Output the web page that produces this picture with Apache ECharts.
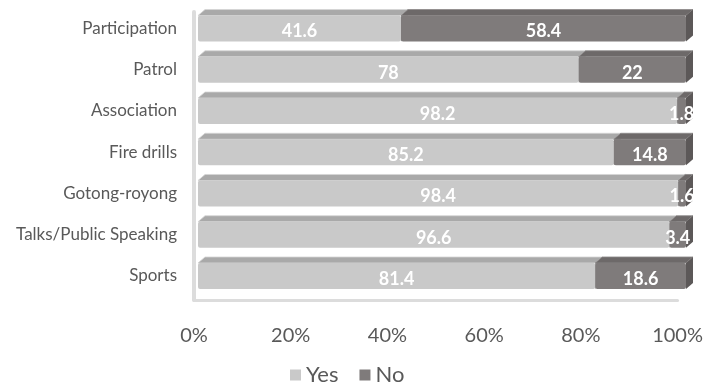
<!DOCTYPE html>
<html>
<head>
<meta charset="utf-8">
<script src="https://cdn.jsdelivr.net/npm/echarts@6/dist/echarts.min.js"></script>
<style>html,body{margin:0;padding:0;background:#fff}#c{width:706px;height:386px}</style>
</head>
<body>
<div id="c"></div>
<script>
const categories = ['Participation', 'Patrol', 'Association', 'Fire drills', 'Gotong-royong', 'Talks/Public Speaking', 'Sports'];
const yesValues = [41.6, 78, 98.2, 85.2, 98.4, 96.6, 81.4];
const noValues = [58.4, 22, 1.8, 14.8, 1.6, 3.4, 18.6];
const axisTicks = [0, 20, 40, 60, 80, 100];

const FONT = 'Lato';
const palette = {
  Yes: { front: '#c9c9c9', top: '#a9a9a9', edge: '#d6d6d6', side: '#9a9a9a' },
  No: { front: '#7f7b7b', top: '#6d6969', edge: '#8c8888', side: '#5c5858' }
};

function makeRender(name) {
  const col = palette[name];
  return function (params, api) {
    const cat = api.value(2);
    const s = api.coord([api.value(0), cat]);
    const e = api.coord([api.value(1), cat]);
    const h = 26, dx = 7, dy = 6;
    const yT = s[1] - h / 2, yB = s[1] + h / 2;
    const x0 = s[0], x1 = e[0];
    const val = api.value(3);
    return {
      type: 'group',
      children: [
        { type: 'polygon', shape: { points: [[x0, yT], [x1, yT], [x1 + dx, yT - dy], [x0 + dx, yT - dy]] },
          style: { fill: col.top, stroke: col.edge, lineWidth: 0.8 } },
        { type: 'polygon', shape: { points: [[x1, yT], [x1 + dx, yT - dy], [x1 + dx, yB - dy], [x1, yB]] },
          style: { fill: col.side } },
        { type: 'rect', shape: { x: x0, y: yT, width: x1 - x0, height: h, r: 2 },
          style: { fill: col.front } },
        { type: 'text', style: { text: String(val), x: (x0 + x1) / 2, y: s[1] + 3, align: 'center', verticalAlign: 'middle',
            fill: '#ffffff', font: 'bold 18px ' + FONT } }
      ]
    };
  };
}

const chart = echarts.init(document.getElementById('c'), null, { renderer: 'canvas' });
chart.setOption({
  animation: false,
  grid: [
    { left: 198, right: 20, top: 7.9, bottom: 89.4 },
    { left: 194, right: 26, top: 12, bottom: 86 }
  ],
  xAxis: [
    { gridIndex: 0, type: 'value', min: 0, max: 100, show: false },
    { gridIndex: 1, type: 'value', min: 0, max: 100, interval: 20,
      axisLine: { show: true, lineStyle: { color: '#dcdcdc', width: 3 } },
      axisTick: { show: false }, splitLine: { show: false },
      axisLabel: { formatter: '{value}%', color: '#595959', fontSize: 20, fontFamily: FONT, margin: 26,
        customValues: axisTicks } }
  ],
  yAxis: [
    { gridIndex: 0, type: 'category', data: categories, inverse: true,
      axisLine: { show: false }, axisTick: { show: false },
      axisLabel: { color: '#595959', fontSize: 17, fontFamily: FONT, margin: 21 } },
    { gridIndex: 1, type: 'value', min: 0, max: 1,
      axisLine: { show: true, lineStyle: { color: '#dcdcdc', width: 4 } },
      axisTick: { show: false }, axisLabel: { show: false }, splitLine: { show: false } }
  ],
  legend: {
    data: ['Yes', 'No'], left: 285, top: 359, icon: 'rect', itemWidth: 11, itemHeight: 11, itemGap: 21,
    textStyle: { color: '#595959', fontSize: 22, fontFamily: FONT, padding: [0, 0, 0, 0] }
  },
  series: [
    { name: 'Yes', type: 'custom', xAxisIndex: 0, yAxisIndex: 0, itemStyle: { color: '#c9c9c9' },
      renderItem: makeRender('Yes'), encode: { x: [0, 1], y: 2 },
      data: categories.map((c, i) => [0, yesValues[i], i, yesValues[i]]) },
    { name: 'No', type: 'custom', xAxisIndex: 0, yAxisIndex: 0, itemStyle: { color: '#7f7b7b' },
      renderItem: makeRender('No'), encode: { x: [0, 1], y: 2 },
      data: categories.map((c, i) => [yesValues[i], yesValues[i] + noValues[i], i, noValues[i]]) }
  ]
});
</script>
</body>
</html>
